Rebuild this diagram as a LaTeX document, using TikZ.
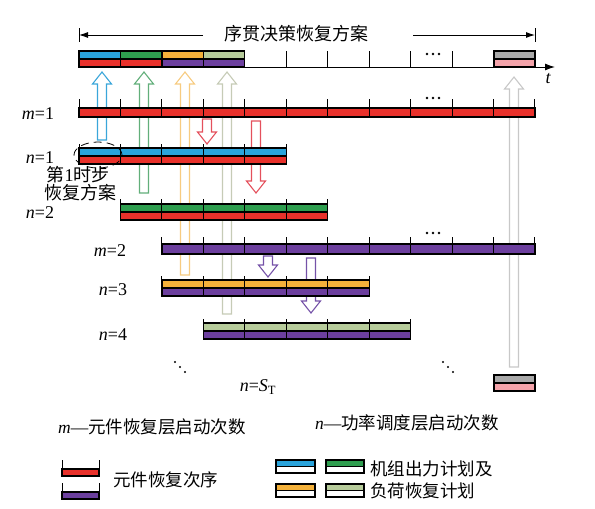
\documentclass[tikz,border=0pt]{standalone}
\usepackage{fontspec}
\setmainfont{Liberation Serif}
\newfontfamily\cjk{Noto Sans CJK SC}
\usetikzlibrary{arrows.meta}
\definecolor{cred}{HTML}{E8312B}
\definecolor{cblue}{HTML}{2AA4DC}
\definecolor{cgreen}{HTML}{2E9E4F}
\definecolor{corange}{HTML}{F4B13A}
\definecolor{csage}{HTML}{B7CC9B}
\definecolor{cpurple}{HTML}{6C3F9E}
\definecolor{cgrey}{HTML}{A9A9A9}
\definecolor{cpink}{HTML}{F4A3AA}
\definecolor{ablue}{HTML}{3AA6DA}
\definecolor{agreen}{HTML}{62AF7A}
\definecolor{aorange}{HTML}{F7CB80}
\definecolor{asage}{HTML}{C6CBB6}
\definecolor{agrey}{HTML}{C8C8C8}
\definecolor{ared}{HTML}{E4505C}
\definecolor{apurple}{HTML}{7552A8}
\tikzset{
  barline/.style={line width=1.3pt, black},
  tickline/.style={line width=1pt, black},
  blockarr/.style={line width=1.1pt, line join=miter},
  lbl/.style={font=\fontsize{18}{20}\selectfont, inner sep=0pt},
  cjktext/.style={font=\cjk\fontsize{18}{20}\selectfont, inner sep=0pt},
  legtext/.style={font=\cjk\fontsize{17.5}{19}\selectfont, inner sep=0pt},
  dotfill/.style={fill=black}
}
% two-tone row: #1 start index, #2 blocks, #3 top y, #4 tick top, #5 top colour, #6 bottom colour
\newcommand\tworow[6]{%
  \pgfmathsetmacro\xs{79+#1*41.45}%
  \pgfmathsetmacro\xe{79+(#1+#2)*41.45}%
  \fill[#5] (\xs,#3) rectangle (\xe,{#3+8});
  \fill[#6] (\xs,{#3+8}) rectangle (\xe,{#3+16});
  \draw[barline] (\xs,#3) rectangle (\xe,{#3+16});
  \draw[barline] (\xs,{#3+8}) -- (\xe,{#3+8});
  \foreach \k in {0,...,#2}{%
    \pgfmathsetmacro\xk{79+(#1+\k)*41.45}%
    \draw[tickline] (\xk,#4) -- (\xk,{#3+16});
  }%
}
% single row: #1 start index, #2 blocks, #3 top y, #4 bottom y, #5 tick top, #6 colour
\newcommand\onerow[6]{%
  \pgfmathsetmacro\xs{79+#1*41.45}%
  \pgfmathsetmacro\xe{79+(#1+#2)*41.45}%
  \fill[#6] (\xs,#3) rectangle (\xe,#4);
  \draw[barline] (\xs,#3) rectangle (\xe,#4);
  \foreach \k in {0,...,#2}{%
    \pgfmathsetmacro\xk{79+(#1+\k)*41.45}%
    \draw[tickline] (\xk,#5) -- (\xk,#4);
  }%
}
\newcommand\uparr[4]{\draw[blockarr,draw=#4,fill=white] ({#1-4.5},#3) -- ({#1-4.5},{#2+12}) -- ({#1-9.5},{#2+12}) -- (#1,#2) -- ({#1+9.5},{#2+12}) -- ({#1+4.5},{#2+12}) -- ({#1+4.5},#3) -- cycle;}
\newcommand\dnarr[4]{\draw[blockarr,draw=#4,fill=white] ({#1-4.5},#2) -- ({#1-4.5},{#3-12}) -- ({#1-9.5},{#3-12}) -- (#1,#3) -- ({#1+9.5},{#3-12}) -- ({#1+4.5},{#3-12}) -- ({#1+4.5},#2) -- cycle;}
\newcommand\hdotsrow[2]{\foreach \d in {-6,0,6}{\fill[dotfill] ({#1+\d},#2) circle[radius=1.3pt];}}
\newcommand\ddotsrow[2]{\foreach \d in {-5,0,5}{\fill[dotfill] ({#1+\d},{#2+\d}) circle[radius=1.2pt];}}
\begin{document}
\begin{tikzpicture}[x=1pt,y=-1pt]
\useasboundingbox (0,0) rectangle (595,509);
% ---- block arrows (behind bars)
\uparr{102}{72}{140}{ablue}
\uparr{144}{72}{193}{agreen}
\uparr{185}{72}{275}{aorange}
\uparr{227}{72}{314}{asage}
\uparr{514}{77}{367}{agrey}
\dnarr{207}{119}{144}{ared}
\dnarr{256}{121}{193}{ared}
\dnarr{268}{256}{277}{apurple}
\dnarr{311}{258}{313}{apurple}
% ---- title span
\node[cjktext] (title) at (296,34) {序贯决策恢复方案};
\coordinate (tl) at (79,35);
\coordinate (tr) at (535,35);
\coordinate (tla) at (203,35);
\coordinate (tra) at (413,35);
\draw[line width=0.9pt, -{Latex[length=9pt,width=6pt]}] (tla) -- (tl);
\draw[line width=0.9pt, -{Latex[length=9pt,width=6pt]}] (tra) -- (tr);
\draw[line width=0.9pt] (79,28) -- (79,42);
\draw[line width=0.9pt] (535,28) -- (535,42);
% ---- top time axis
\coordinate (ax0) at (79,67);
\coordinate (ax1) at (555,67);
\draw[line width=1pt, -{Latex[length=10pt,width=7pt]}] (ax0) -- (ax1);
\node[lbl, font=\itshape\fontsize{18}{20}\selectfont] (t) at (548,79) {t};
\foreach \k in {0,...,11}{%
  \pgfmathsetmacro\xk{79+\k*41.45}%
  \draw[tickline] (\xk,51) -- (\xk,67);
}
\foreach \k/\ct/\cb in {0/cblue/cred,1/cgreen/cred,2/corange/cpurple,3/csage/cpurple}{%
  \pgfmathsetmacro\xa{79+\k*41.45}%
  \pgfmathsetmacro\xb{79+(\k+1)*41.45}%
  \fill[\ct] (\xa,51) rectangle (\xb,59);
  \fill[\cb] (\xa,59) rectangle (\xb,67);
  \draw[barline] (\xa,51) rectangle (\xb,67);
  \draw[barline] (\xa,59) -- (\xb,59);
}
\fill[cgrey] (493.95,51) rectangle (535,59);
\fill[cpink] (493.95,59) rectangle (535,67);
\draw[barline] (493.95,51) rectangle (535,67);
\draw[barline] (493.95,59) -- (535,59);
\hdotsrow{433}{54}
% ---- rows
\onerow{0}{11}{108}{117}{99}{cred}
\hdotsrow{433}{98}
\tworow{0}{5}{148}{144}{cblue}{cred}
\tworow{1}{5}{204}{199}{cgreen}{cred}
\onerow{2}{9}{244}{254}{237}{cpurple}
\hdotsrow{433}{233}
\tworow{2}{5}{280}{276}{corange}{cpurple}
\tworow{3}{5}{323}{319}{csage}{cpurple}
% last block
\fill[cgrey] (494,375) rectangle (535,383);
\fill[cpink] (494,383) rectangle (535,391);
\draw[barline] (494,375) rectangle (535,391);
\draw[barline] (494,383) -- (535,383);
\ddotsrow{180}{367}
\ddotsrow{448}{367}
% dashed ellipse
\draw[line width=0.8pt, dash pattern=on 8pt off 5pt] (98,155) ellipse [x radius=24pt, y radius=13pt];
% ---- labels
\node[lbl] (m1) at (38,114) {\textit{m}=1};
\node[lbl] (n1) at (40,158) {\textit{n}=1};
\node[lbl] (n2) at (40,213) {\textit{n}=2};
\node[lbl] (m2) at (110,251) {\textit{m}=2};
\node[lbl] (n3) at (113,290) {\textit{n}=3};
\node[lbl] (n4) at (113,335) {\textit{n}=4};
\node[lbl] (nst) at (258,387) {\textit{n}=\textit{S}\textsubscript{T}};
\node[cjktext] (step1) at (78,175) {第{\rmfamily 1}时步};
\node[cjktext] (step2) at (80,193) {恢复方案};
% ---- legend
\node[legtext, anchor=west] (legm) at (58,427) {{\rmfamily\itshape m}{\rmfamily ---}元件恢复层启动次数};
\node[legtext, anchor=west] (legn) at (315,423) {{\rmfamily\itshape n}{\rmfamily ---}功率调度层启动次数};
\fill[cred] (62,469) rectangle (99,476);
\draw[barline] (62,469) rectangle (99,476);
\draw[tickline] (62,460) -- (62,476);
\draw[tickline] (99,460) -- (99,476);
\fill[cpurple] (62,492) rectangle (99,499);
\draw[barline] (62,492) rectangle (99,499);
\draw[tickline] (62,483) -- (62,499);
\draw[tickline] (99,483) -- (99,499);
\node[legtext, anchor=west] (legc) at (113,480) {元件恢复次序};
\foreach \xa/\xb/\ya/\c in {276/315/460/cblue,326/364/460/cgreen,276/315/484/corange,326/364/484/csage}{%
  \fill[\c] (\xa,\ya) rectangle (\xb,{\ya+6.5});
  \draw[line width=1.1pt] (\xa,\ya) rectangle (\xb,{\ya+13});
  \draw[line width=1.1pt] (\xa,{\ya+6.5}) -- (\xb,{\ya+6.5});
}
\node[legtext, anchor=west] (legp1) at (370,469) {机组出力计划及};
\node[legtext, anchor=west] (legp2) at (370,491) {负荷恢复计划};
\end{tikzpicture}
\end{document}
